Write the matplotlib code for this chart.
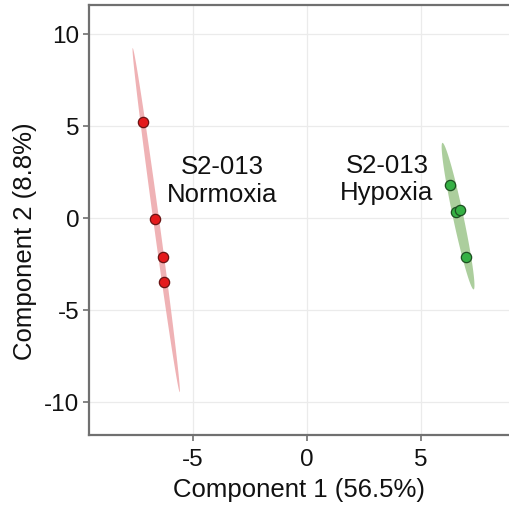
import numpy as np
import matplotlib
matplotlib.use("Agg")
import matplotlib.pyplot as plt

plt.rcParams["font.family"] = ["Liberation Sans", "DejaVu Sans"]
plt.rcParams["axes.unicode_minus"] = False

# PCA scores
norm_x = [-7.19, -6.67, -6.32, -6.27]
norm_y = [5.22, -0.05, -2.12, -3.48]
hyp_x = [6.27, 6.54, 6.71, 6.97]
hyp_y = [1.79, 0.33, 0.43, -2.12]

groups = [
    ("S2-013\nNormoxia", norm_x, norm_y, "#e41a1c", "#6b1414", "#eeaaad", (-3.73, 2.0)),
    ("S2-013\nHypoxia", hyp_x, hyp_y, "#35b044", "#1d4f22", "#a3c993", (3.5, 2.1)),
]

x_ticks = [-5, 0, 5]
y_ticks = [-10, -5, 0, 5, 10]


def conf_ellipse(x, y, level_chi2=5.991, n=200):
    pts = np.column_stack([x, y])
    mu = pts.mean(axis=0)
    cov = np.cov(pts, rowvar=False)
    vals, vecs = np.linalg.eigh(cov)
    t = np.linspace(0, 2 * np.pi, n)
    circ = np.column_stack([np.cos(t), np.sin(t)]) * np.sqrt(vals * level_chi2)
    return mu + circ @ vecs.T


fig = plt.figure(figsize=(5.10, 5.08), dpi=100)
ax = fig.add_axes([0.1745, 0.1437, 0.8255, 0.8463])

for label, xs, ys, col, edge, fill, pos in groups:
    ell = conf_ellipse(xs, ys)
    ax.fill(ell[:, 0], ell[:, 1], color=fill, alpha=0.9, lw=0, zorder=2)
    ax.scatter(xs, ys, s=55, color=col, edgecolor=edge, linewidth=0.9, zorder=3)
    ax.text(pos[0], pos[1], label, ha="center", va="center", fontsize=18.5,
            color="#111111", linespacing=1.2, zorder=4)

ax.set_xlim(-9.56, 8.9)
ax.set_ylim(-11.79, 11.58)
ax.set_xticks(x_ticks)
ax.set_yticks(y_ticks)
ax.grid(True, color="#ebebeb", linewidth=0.9)
ax.set_axisbelow(True)

for side in ["left", "bottom", "top"]:
    ax.spines[side].set_color("#707070")
    ax.spines[side].set_linewidth(1.6)
ax.spines["right"].set_visible(False)

ax.tick_params(axis="both", labelsize=17.5, colors="#707070", length=4, width=1.2,
               labelcolor="#111111", pad=3)
ax.tick_params(axis="x", pad=6)
ax.set_xlabel("Component 1 (56.5%)", fontsize=18.5, color="#111111", labelpad=5)
ax.set_ylabel("Component 2 (8.8%)", fontsize=18.5, color="#111111")
ax.yaxis.set_label_coords(-0.124, 0.45)

fig.savefig("out.png", dpi=100)
